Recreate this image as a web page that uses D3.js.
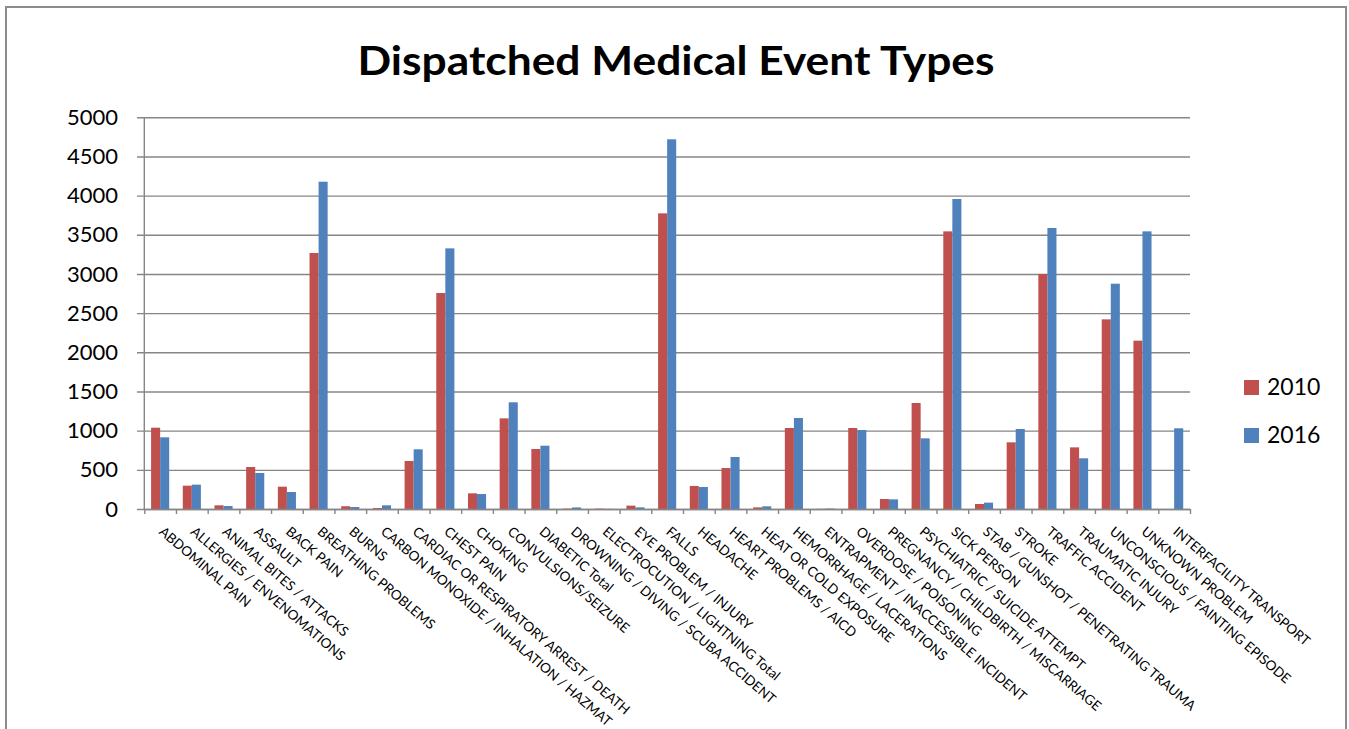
<!DOCTYPE html>
<html>
<head>
<meta charset="utf-8">
<script src="https://cdn.jsdelivr.net/npm/d3@7"></script>
<style>
  html, body { margin: 0; padding: 0; background: #fff; }
  svg { display: block; font-family: Lato, "Open Sans", sans-serif; }
</style>
</head>
<body>
<svg id="chart" width="1349" height="729"></svg>
<script>
// Event type categories along the x axis
const categories = [
  "ABDOMINAL PAIN", "ALLERGIES / ENVENOMATIONS", "ANIMAL BITES / ATTACKS", "ASSAULT",
  "BACK PAIN", "BREATHING PROBLEMS", "BURNS", "CARBON MONOXIDE / INHALATION / HAZMAT",
  "CARDIAC OR RESPIRATORY ARREST / DEATH", "CHEST PAIN", "CHOKING", "CONVULSIONS/SEIZURE",
  "DIABETIC Total", "DROWNING / DIVING / SCUBA ACCIDENT", "ELECTROCUTION / LIGHTNING Total",
  "EYE PROBLEM / INJURY", "FALLS", "HEADACHE", "HEART PROBLEMS / AICD", "HEAT OR COLD EXPOSURE",
  "HEMORRHAGE / LACERATIONS", "ENTRAPMENT / INACCESSIBLE INCIDENT", "OVERDOSE / POISONING",
  "PREGNANCY / CHILDBIRTH / MISCARRIAGE", "PSYCHIATRIC / SUICIDE ATTEMPT", "SICK PERSON",
  "STAB / GUNSHOT / PENETRATING TRAUMA", "STROKE", "TRAFFIC ACCIDENT", "TRAUMATIC INJURY",
  "UNCONSCIOUS / FAINTING EPISODE", "UNKNOWN PROBLEM", "INTERFACILITY TRANSPORT"
];

// Series names and counts per category
const seriesNames = ["2010", "2016"];
const values2010 = [1038, 298, 47, 536, 285, 3268, 35, 12, 613, 2757, 200, 1157, 766, 5, 5, 43,
  3774, 294, 523, 21, 1034, 2, 1034, 128, 1353, 3544, 64, 851, 3000, 787, 2421, 2149, 0];
const values2016 = [915, 311, 38, 460, 217, 4178, 25, 47, 762, 3327, 191, 1362, 808, 20, 2, 21,
  4719, 281, 664, 34, 1162, 6, 1008, 123, 902, 3957, 81, 1021, 3587, 647, 2876, 3544, 1030];

// Y axis tick values
const yTicks = [0, 500, 1000, 1500, 2000, 2500, 3000, 3500, 4000, 4500, 5000];

const colors = { "2010": "#C0504D", "2016": "#4F81BD" };
const gridColor = "#868686";

const svg = d3.select("#chart");

// Plot area
const plotLeft = 144.3, plotRight = 1190, plotTop = 117.3, plotBottom = 509;

const x = d3.scaleBand().domain(categories).range([plotLeft, plotRight]).paddingInner(0).paddingOuter(0);
const bw = x.bandwidth();
const gap = bw * 0.75 / 3.5;
const xSub = d3.scaleBand().domain(seriesNames).range([gap, bw - gap]).padding(0);
const y = d3.scaleLinear().domain([0, 5000]).range([plotBottom, plotTop]);

// Outer frame
svg.append("path")
  .attr("d", `M6,729 L6,7 L1346,7 L1346,729`)
  .attr("fill", "none")
  .attr("stroke", "#8c8c8c")
  .attr("stroke-width", 2);

// Title
svg.append("text")
  .attr("x", 676).attr("y", 75)
  .attr("text-anchor", "middle")
  .attr("font-weight", "bold")
  .attr("font-size", 40)
  .attr("textLength", 637)
  .attr("lengthAdjust", "spacingAndGlyphs")
  .text("Dispatched Medical Event Types");

// Horizontal gridlines and y labels
const yAxis = d3.axisLeft(y)
  .tickValues(yTicks)
  .tickSize(-(plotRight - 137))
  .tickPadding(19)
  .tickFormat(d3.format("d"));

const gy = svg.append("g").attr("transform", "translate(137,0)").call(yAxis);
gy.select(".domain").remove();
gy.selectAll(".tick line").attr("stroke", gridColor).attr("stroke-width", 1.4);
gy.selectAll(".tick text")
  .attr("fill", "#000")
  .attr("font-size", 22)
  .attr("font-family", "Lato, sans-serif");

// Vertical value axis line
svg.append("line")
  .attr("x1", plotLeft).attr("x2", plotLeft)
  .attr("y1", y(5000)).attr("y2", plotBottom)
  .attr("stroke", gridColor).attr("stroke-width", 1.4);

// Bars
const groups = svg.append("g").selectAll("g")
  .data(categories)
  .join("g")
  .attr("transform", d => `translate(${x(d)},0)`);

groups.selectAll("rect")
  .data((d, i) => [
    { s: "2010", v: values2010[i] },
    { s: "2016", v: values2016[i] }
  ])
  .join("rect")
  .attr("x", d => xSub(d.s))
  .attr("width", xSub.bandwidth())
  .attr("y", d => y(d.v))
  .attr("height", d => y(0) - y(d.v))
  .attr("fill", d => colors[d.s]);

// Category axis with tick marks at band boundaries
const xb = d3.scaleLinear().domain([0, categories.length]).range([plotLeft, plotRight]);
const xAxis = d3.axisBottom(xb)
  .tickValues(d3.range(categories.length + 1))
  .tickSize(5)
  .tickSizeOuter(0)
  .tickFormat("");
const gx = svg.append("g").attr("transform", `translate(0,${plotBottom})`).call(xAxis);
gx.select(".domain").attr("stroke", gridColor).attr("stroke-width", 1.4);
gx.selectAll(".tick line").attr("stroke", gridColor).attr("stroke-width", 1.4);

// Rotated category labels
svg.append("g").selectAll("text")
  .data(categories)
  .join("text")
  .attr("transform", d => `translate(${x(d) + bw / 2 - 2},${plotBottom + 24}) rotate(40.5)`)
  .attr("font-size", 13.5)
  .attr("fill", "#000")
  .text(d => d);

// Legend
const legend = svg.append("g").selectAll("g")
  .data(seriesNames)
  .join("g")
  .attr("transform", (d, i) => `translate(1244,${380 + i * 48})`);
legend.append("rect")
  .attr("width", 15).attr("height", 15)
  .attr("fill", d => colors[d]);
legend.append("text")
  .attr("x", 23).attr("y", 15)
  .attr("font-size", 23)
  .attr("fill", "#000")
  .text(d => d);
</script>
</body>
</html>
